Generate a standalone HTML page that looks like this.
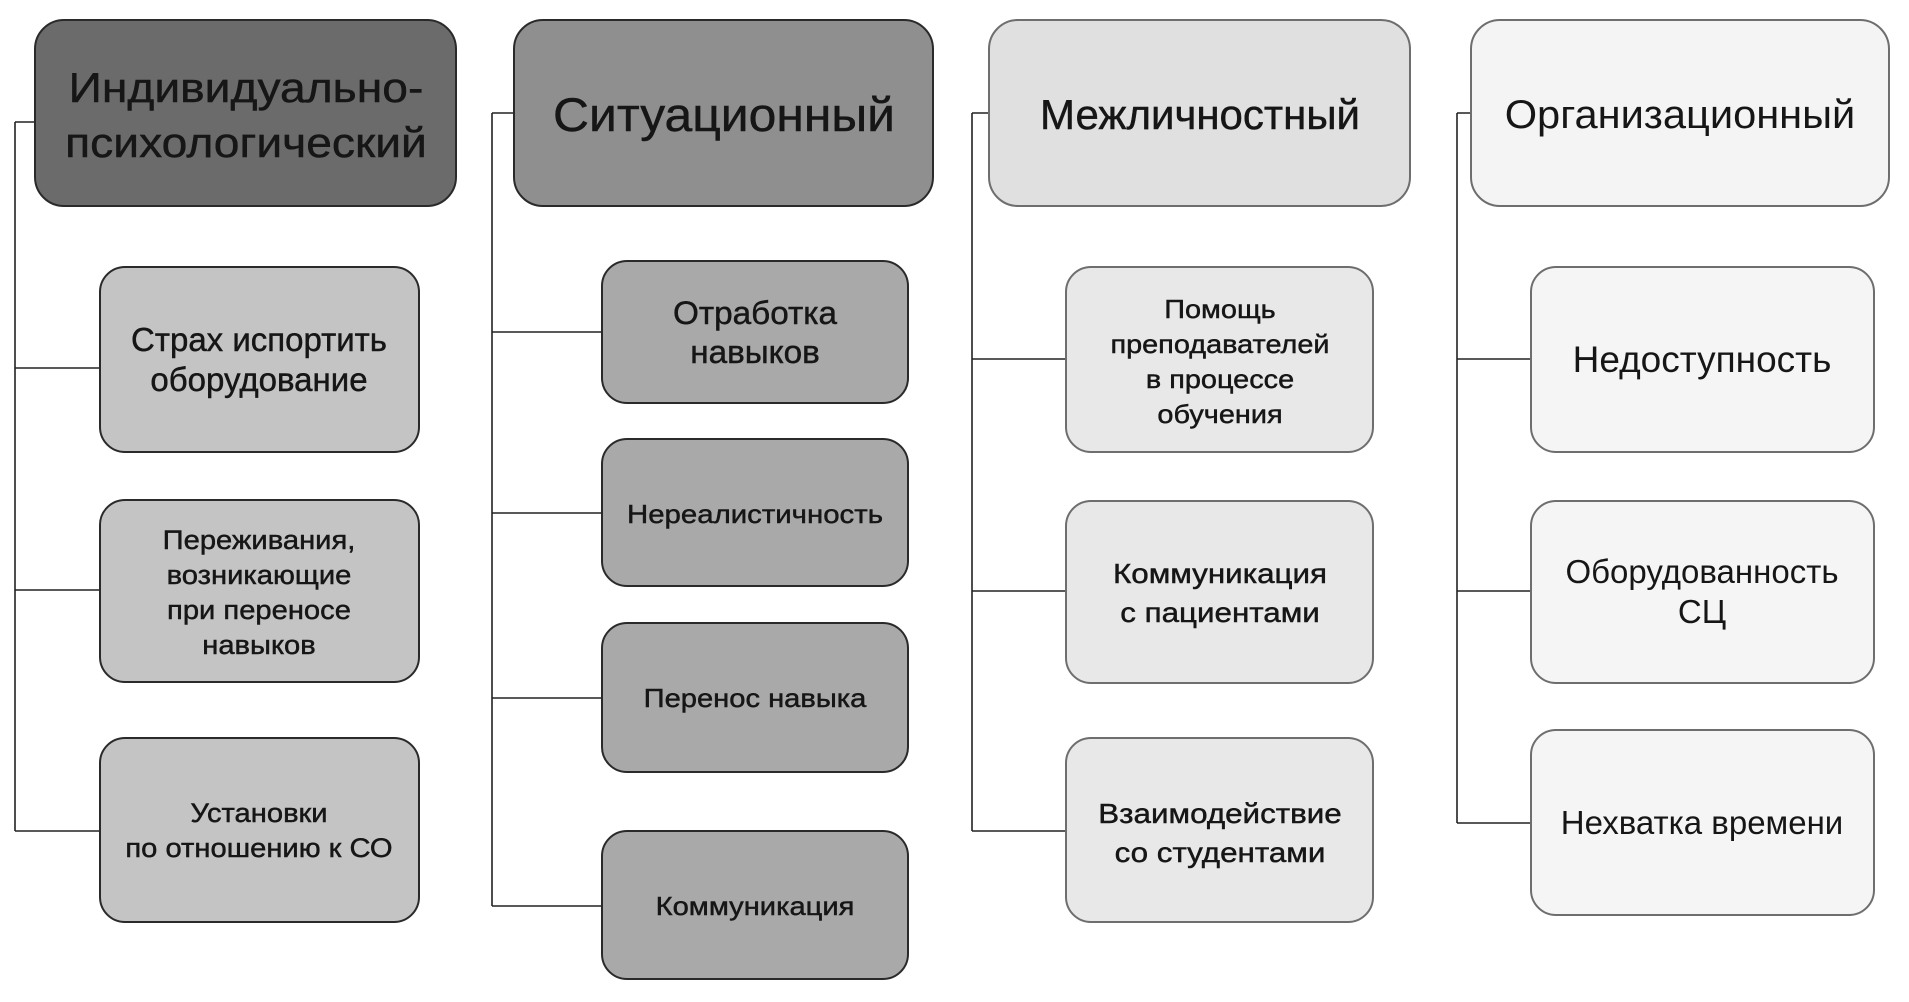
<!DOCTYPE html>
<html><head><meta charset="utf-8">
<style>
html,body{margin:0;padding:0;background:#fff;}
#c{position:relative;width:1909px;height:1002px;overflow:hidden;background:#fff;font-family:"Liberation Sans",Arial,sans-serif;color:#161616;}
.b{position:absolute;box-sizing:border-box;border:2px solid #2a2a2a;}
.h{border-radius:30px;}
.k{border-radius:26px;}
.g{border-color:#6e6e6e;}
.t{position:absolute;white-space:nowrap;text-align:center;transform:translate(-50%,-50%) scaleX(var(--s,1));}
.w{-webkit-text-stroke:0.45px #161616;}
svg{position:absolute;left:0;top:0;}
</style></head><body><div id="c">
<svg width="1909" height="1002">
<g stroke="#222" stroke-width="1.6" fill="none">
<path d="M15 122V831M15 122H34M15 368H99M15 590H99M15 831H99"/>
<path d="M492 113V906M492 113H513M492 332H601M492 513H601M492 698H601M492 906H601"/>
<path d="M972 113V831M972 113H988M972 359H1065M972 591H1065M972 831H1065"/>
<path d="M1457 113V823M1457 113H1470M1457 359H1530M1457 591H1530M1457 823H1530"/>
</g></svg>

<!-- headers -->
<div class="b h" style="left:34px;top:19px;width:423px;height:188px;background:#6b6b6b"></div>
<div class="b h" style="left:513px;top:19px;width:421px;height:188px;background:#8f8f8f"></div>
<div class="b h g" style="left:988px;top:19px;width:423px;height:188px;background:#e0e0e0"></div>
<div class="b h g" style="left:1470px;top:19px;width:420px;height:188px;background:#f4f4f4"></div>

<div class="t w" style="left:246px;top:115px;font-size:42px;line-height:55px;--s:1.1">Индивидуально-<br>психологический</div>
<div class="t w" style="left:724px;top:115px;font-size:47px;line-height:56px;--s:1.06">Ситуационный</div>
<div class="t w" style="left:1200px;top:115px;font-size:42px;line-height:50px;--s:1.0">Межличностный</div>
<div class="t" style="left:1680px;top:115px;font-size:40px;line-height:48px;--s:1.04">Организационный</div>

<!-- column 1 -->
<div class="b k" style="left:99px;top:266px;width:321px;height:187px;background:#c4c4c4"></div>
<div class="b k" style="left:99px;top:499px;width:321px;height:184px;background:#c4c4c4"></div>
<div class="b k" style="left:99px;top:737px;width:321px;height:186px;background:#c4c4c4"></div>
<div class="t w" style="left:259px;top:360px;font-size:33px;line-height:40px">Страх испортить<br>оборудование</div>
<div class="t w" style="left:259px;top:593px;font-size:26.5px;line-height:35px;--s:1.1">Переживания,<br>возникающие<br>при переносе<br>навыков</div>
<div class="t w" style="left:259px;top:831px;font-size:26.5px;line-height:35px;--s:1.1">Установки<br>по отношению к СО</div>

<!-- column 2 -->
<div class="b k" style="left:601px;top:260px;width:308px;height:144px;background:#a9a9a9"></div>
<div class="b k" style="left:601px;top:438px;width:308px;height:149px;background:#a9a9a9"></div>
<div class="b k" style="left:601px;top:622px;width:308px;height:151px;background:#a9a9a9"></div>
<div class="b k" style="left:601px;top:830px;width:308px;height:150px;background:#a9a9a9"></div>
<div class="t w" style="left:755px;top:333px;font-size:32px;line-height:39px;--s:1.04">Отработка<br>навыков</div>
<div class="t w" style="left:755px;top:514px;font-size:26px;line-height:32px;--s:1.13">Нереалистичность</div>
<div class="t w" style="left:755px;top:698px;font-size:26px;line-height:32px;--s:1.12">Перенос навыка</div>
<div class="t w" style="left:755px;top:906px;font-size:26px;line-height:32px;--s:1.12">Коммуникация</div>

<!-- column 3 -->
<div class="b k g" style="left:1065px;top:266px;width:309px;height:187px;background:#e8e8e8"></div>
<div class="b k g" style="left:1065px;top:500px;width:309px;height:184px;background:#e8e8e8"></div>
<div class="b k g" style="left:1065px;top:737px;width:309px;height:186px;background:#e8e8e8"></div>
<div class="t w" style="left:1220px;top:362px;font-size:26px;line-height:35px;--s:1.11">Помощь<br>преподавателей<br>в процессе<br>обучения</div>
<div class="t w" style="left:1220px;top:593px;font-size:28px;line-height:39px;--s:1.12">Коммуникация<br>с пациентами</div>
<div class="t w" style="left:1220px;top:833px;font-size:28px;line-height:39px;--s:1.12">Взаимодействие<br>со студентами</div>

<!-- column 4 -->
<div class="b k g" style="left:1530px;top:266px;width:345px;height:187px;background:#f5f5f5"></div>
<div class="b k g" style="left:1530px;top:500px;width:345px;height:184px;background:#f5f5f5"></div>
<div class="b k g" style="left:1530px;top:729px;width:345px;height:187px;background:#f5f5f5"></div>
<div class="t" style="left:1702px;top:360px;font-size:37px;line-height:44px">Недоступность</div>
<div class="t" style="left:1702px;top:592px;font-size:33px;line-height:40px">Оборудованность<br>СЦ</div>
<div class="t" style="left:1702px;top:823px;font-size:33px;line-height:40px">Нехватка времени</div>
</div></body></html>
